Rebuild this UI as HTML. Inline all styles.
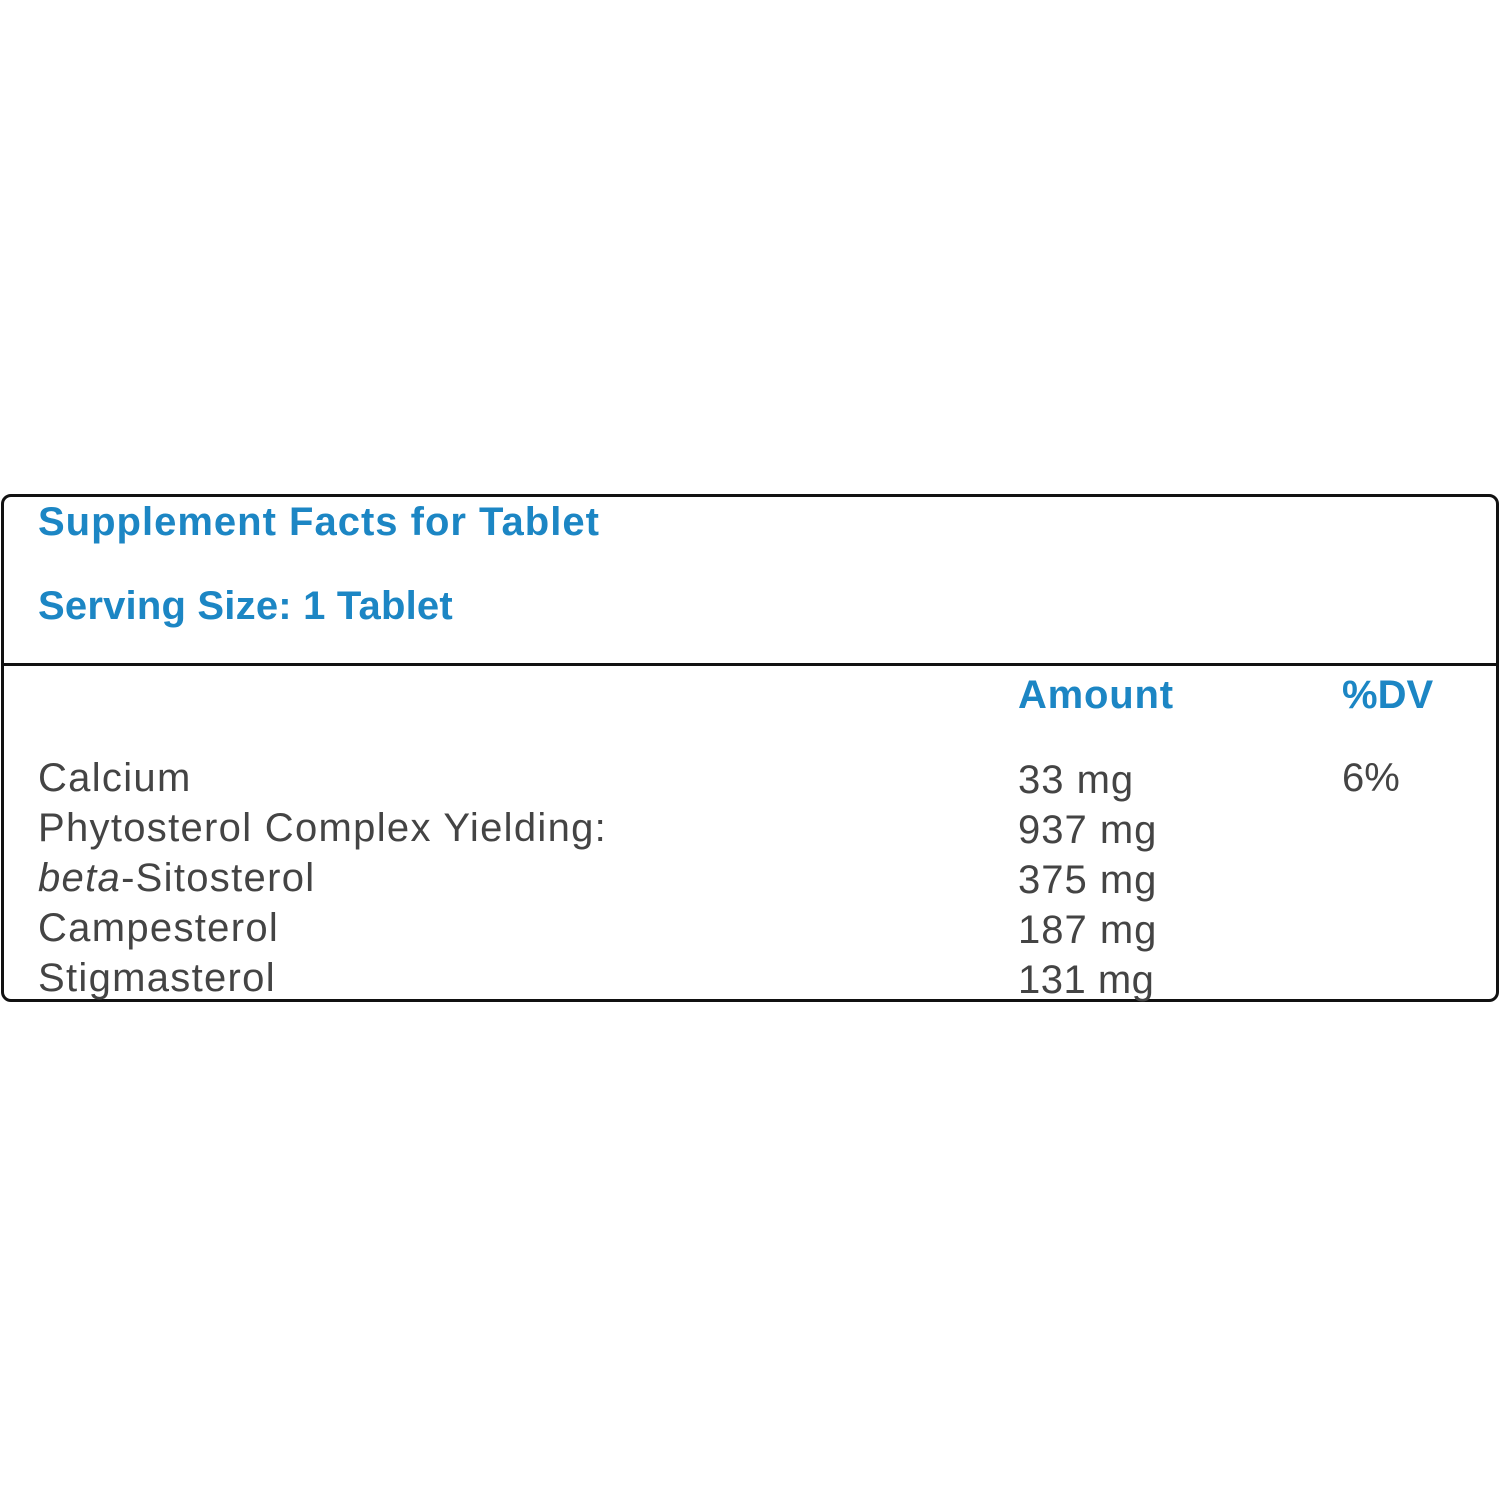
<!DOCTYPE html>
<html>
<head>
<meta charset="utf-8">
<style>
  html, body { margin:0; padding:0; background:#fff; }
  body { width:1500px; height:1500px; position:relative; overflow:hidden;
         font-family:"Liberation Sans", Arial, sans-serif; }
  .box { position:absolute; left:1px; top:494px; width:1492px; height:502px;
         border:3px solid #111; border-radius:10px; }
  .divider { position:absolute; left:1px; top:663px; width:1498px; height:3px; background:#111; }
  .t { position:absolute; white-space:nowrap; line-height:1.15; }
  .h { color:#1c86c4; font-weight:bold; font-size:40px; letter-spacing:1px; }
  .b { color:#444; font-size:40px; letter-spacing:1.3px; }
</style>
</head>
<body>
  <div class="box"></div>
  <div class="divider"></div>

  <div class="t h" style="left:38px; top:499px;">Supplement Facts for Tablet</div>
  <div class="t h" style="left:38px; top:583px; letter-spacing:0.2px;">Serving Size: 1 Tablet</div>

  <div class="t h" style="left:1018px; top:672px; letter-spacing:0.8px;">Amount</div>
  <div class="t h" style="left:1342px; top:672px; letter-spacing:0;">%DV</div>

  <div class="t b" style="left:38px; top:755px;">Calcium</div>
  <div class="t b" style="left:38px; top:805px;">Phytosterol Complex Yielding:</div>
  <div class="t b" style="left:38px; top:855px;"><i>beta</i>-Sitosterol</div>
  <div class="t b" style="left:38px; top:905px;">Campesterol</div>
  <div class="t b" style="left:38px; top:955px;">Stigmasterol</div>

  <div class="t b" style="left:1018px; top:757px; letter-spacing:1px;">33 mg</div>
  <div class="t b" style="left:1018px; top:807px; letter-spacing:1px;">937 mg</div>
  <div class="t b" style="left:1018px; top:857px; letter-spacing:1px;">375 mg</div>
  <div class="t b" style="left:1018px; top:907px; letter-spacing:1px;">187 mg</div>
  <div class="t b" style="left:1018px; top:957px; letter-spacing:0.5px;">131 mg</div>

  <div class="t b" style="left:1342px; top:755px; letter-spacing:0;">6%</div>
</body>
</html>
